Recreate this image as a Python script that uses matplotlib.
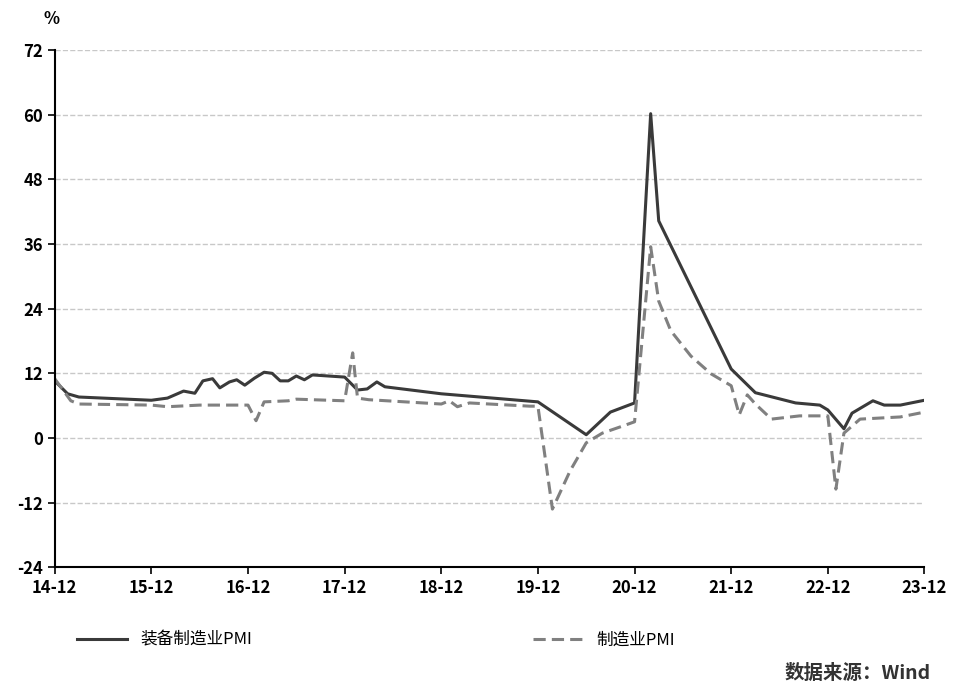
import matplotlib.pyplot as plt

plt.rcParams['font.family'] = ['Noto Sans CJK SC', 'DejaVu Sans']

# months since 2014-12
equip_x = [0, 1.6, 3, 12, 14, 16, 17.4, 18.4, 19.6, 20.5, 21.7, 22.6, 23.6, 24.8, 26, 27, 28, 29, 30, 31,
           32, 36, 37.6, 38.8, 40, 41, 48, 60, 66, 69, 72, 74, 75, 84, 87, 92, 95, 96, 98, 99, 101.6,
           103, 105, 108]
equip_y = [10.6, 8.2, 7.6, 7.0, 7.4, 8.7, 8.3, 10.6, 11.0, 9.3, 10.4, 10.8, 9.8, 11.1, 12.2, 12.0, 10.6,
           10.6, 11.5, 10.8, 11.7, 11.3, 8.9, 9.1, 10.4, 9.5, 8.2, 6.7, 0.6, 4.8, 6.5, 60.2, 40.3, 12.8,
           8.4, 6.5, 6.1, 5.2, 1.7, 4.6, 6.9, 6.1, 6.1, 7.0]
mfg_x = [0, 2, 3, 12, 14, 18, 24, 25, 26, 29, 30, 36, 37, 37.6, 39, 48, 49, 50, 51.5, 59, 60, 61.8, 64,
         66, 68, 70.5, 72, 74, 75, 76.5, 79, 81.5, 84, 85, 86, 87, 89, 92.5, 96, 97, 98, 100, 105, 108]
mfg_y = [11.0, 6.9, 6.3, 6.1, 5.8, 6.1, 6.1, 3.2, 6.7, 6.9, 7.2, 6.9, 15.8, 7.4, 7.1, 6.3, 6.9, 5.8, 6.5,
         5.9, 5.9, -13.2, -6.1, -0.9, 0.9, 2.2, 3.0, 35.5, 25.4, 19.9, 15.2, 11.9, 9.7, 4.3, 8.0, 6.3,
         3.5, 4.1, 4.1, -9.5, 0.9, 3.5, 3.9, 4.8]
tick_labels = ['14-12', '15-12', '16-12', '17-12', '18-12', '19-12', '20-12', '21-12', '22-12', '23-12']
y_ticks = list(range(-24, 73, 12))

fig = plt.figure(figsize=(9.6, 6.96), dpi=100)
ax = fig.add_axes([0.057, 0.185, 0.906, 0.743])
l1, = ax.plot(equip_x, equip_y, color='#3a3a3a', lw=2.2, label='装备制造业PMI')
l2, = ax.plot(mfg_x, mfg_y, color='#808080', lw=2.2, ls=(0, (4, 2)), label='制造业PMI')

ax.set_xlim(0, 108)
ax.set_ylim(-24, 72)
ax.set_xticks(range(0, 109, 12))
ax.set_xticklabels(tick_labels, fontsize=12, fontweight='bold')
ax.set_yticks(y_ticks)
ax.set_yticklabels([str(v) for v in y_ticks], fontsize=12, fontweight='bold')
ax.yaxis.grid(True, ls='--', color='#c8c8c8', lw=1)
ax.set_axisbelow(True)
for s in ['top', 'right']:
    ax.spines[s].set_visible(False)
for s in ['left', 'bottom']:
    ax.spines[s].set_linewidth(1.5)
ax.tick_params(direction='out', length=5, width=1.2)

fig.text(0.045, 0.965, '%', fontsize=12, fontweight='bold')
fig.legend([l1], ['装备制造业PMI'], loc='center left', bbox_to_anchor=(0.065, 0.08),
           frameon=False, fontsize=12, handlelength=3)
fig.legend([l2], ['制造业PMI'], loc='center left', bbox_to_anchor=(0.54, 0.08),
           frameon=False, fontsize=12, handlelength=3)
fig.text(0.97, 0.025, '数据来源：Wind', ha='right', fontsize=14, fontweight='bold', color='#333333')

fig.savefig('out.png', dpi=100)
